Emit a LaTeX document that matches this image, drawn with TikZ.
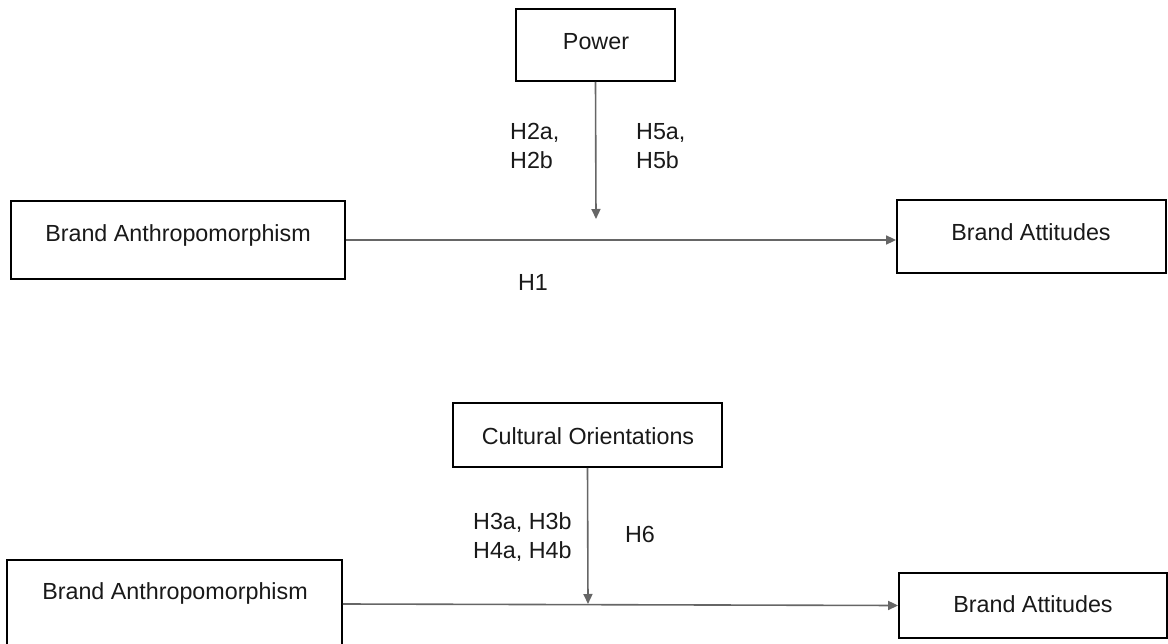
\documentclass[tikz,border=0pt]{standalone}
\usepackage{fontspec}
\setmainfont{Liberation Sans}
\usetikzlibrary{arrows.meta}
\begin{document}
\begin{tikzpicture}[x=1pt,y=-1pt,
  box/.style={draw=black,line width=1.8pt,fill=white,inner sep=0pt},
  txt/.style={font=\fontsize{23.3}{29}\selectfont,inner sep=0pt,text=black!90},
  lbl/.style={font=\fontsize{23.3}{29}\selectfont,inner sep=0pt,align=left,text=black!90},
  link/.style={draw=black!60,line width=1.6pt,-{Triangle[length=10pt,width=9pt]}}]
\useasboundingbox (0,0) rectangle (1168,644);
\clip (0,0) rectangle (1168,644);
% top diagram
\node[box,minimum width=159pt,minimum height=72pt] (pw) at (595.5,45) {};
\node[txt] (pwt) at (596,41.5) {Power};
\node[box,minimum width=334pt,minimum height=78pt] (ba1) at (178,240) {};
\node[txt] (ba1t) at (178,235) {Brand Anthropomorphism};
\node[box,minimum width=269pt,minimum height=73pt] (at1) at (1031.5,236.5) {};
\node[txt] (at1t) at (1031,232.5) {Brand Attitudes};
\coordinate (m1) at (596,219);
\draw[link] (pw.south) -- (m1);
\draw[link] (ba1.east) -- (ba1.east -| at1.west);
\node[lbl,anchor=west] (h2) at (510,146) {H2a,\\H2b};
\node[lbl,anchor=west] (h5) at (636,146) {H5a,\\H5b};
\node[txt] (h1) at (533,282.5) {H1};
% bottom diagram
\node[box,minimum width=269pt,minimum height=64pt] (co) at (587.5,435) {};
\node[txt] (cot) at (588,436) {Cultural Orientations};
\node[box,minimum width=335pt,minimum height=88pt] (ba2) at (174.5,604) {};
\node[txt] (ba2t) at (175,593) {Brand Anthropomorphism};
\node[box,minimum width=268pt,minimum height=65pt] (at2) at (1033,605.5) {};
\node[txt] (at2t) at (1033,604.5) {Brand Attitudes};
\coordinate (m2) at (588,604);
\draw[link] (co.south) -- (m2);
\draw[link] (ba2.east) -- (at2.west);
\node[lbl,anchor=west] (h3) at (473,537) {H3a, H3b\\H4a, H4b};
\node[txt] (h6) at (640,534.5) {H6};
\end{tikzpicture}
\end{document}
